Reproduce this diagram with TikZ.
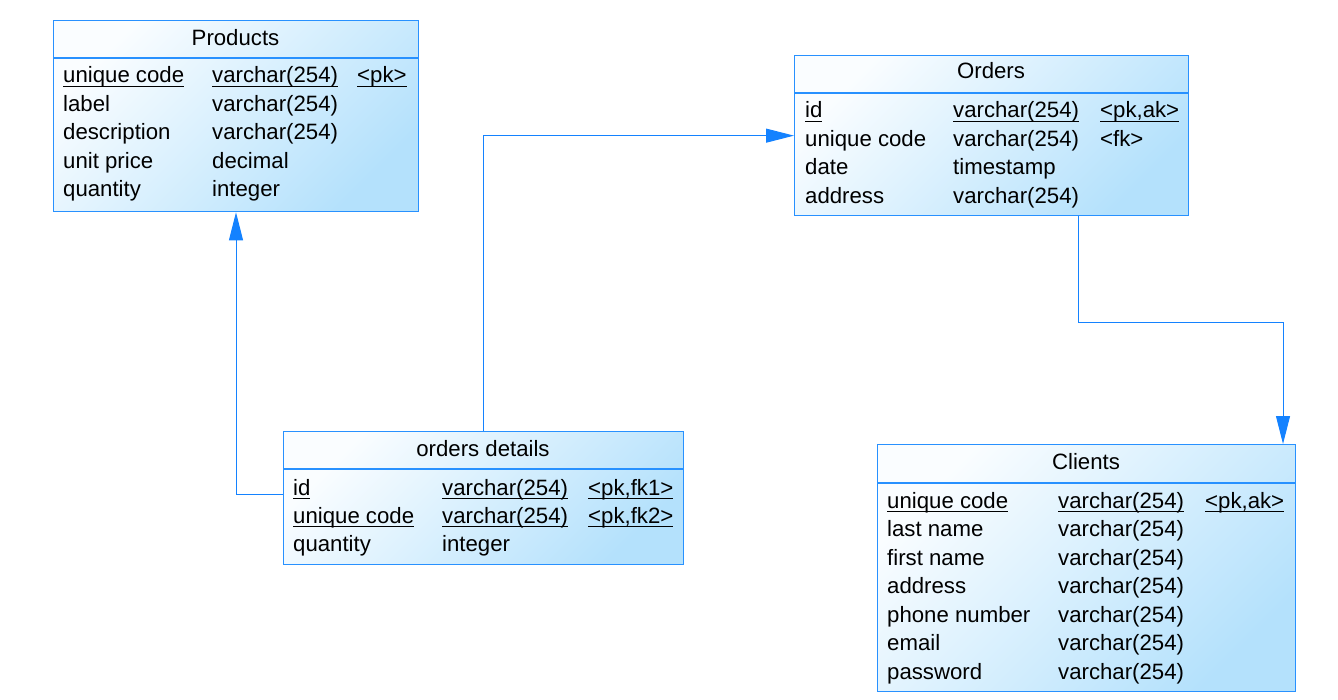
\documentclass[tikz,border=0pt]{standalone}
\usepackage{fontspec}
\setmainfont{Liberation Sans}
\usetikzlibrary{arrows.meta}
\definecolor{bcol}{RGB}{40,145,255}
\definecolor{ccol}{RGB}{20,130,255}
\definecolor{gtop}{RGB}{250,253,255}
\definecolor{gbot}{RGB}{180,225,252}
\newcommand\uln[1]{\setbox0\hbox{#1}\rlap{\rule[-4pt]{\wd0}{1.3pt}}\box0}
\tikzset{
  tbl/.style={draw=bcol, line width=1.3pt, top color=gtop, bottom color=gbot, shading angle=45, inner sep=0pt, anchor=north west},
  txt/.style={inner sep=0pt, anchor=base west, font=\fontsize{22.2}{26}\selectfont},
  ttl/.style={inner sep=0pt, anchor=base, font=\fontsize{22.2}{26}\selectfont},
  sep/.style={draw=bcol, line width=1.3pt},
  conn/.style={draw=ccol, line width=1pt, -{Triangle[length=28pt,width=14pt]}}
}
\newcommand\fld[4]{\node[txt] (#1) at (#2,#3) {#4};}
\begin{document}
\begin{tikzpicture}[x=1pt,y=-1pt]
\useasboundingbox (0,0) rectangle (1338,700);
% tables
\node[tbl, minimum width=365pt, minimum height=191pt] (prod) at (53,20) {};
\node[tbl, minimum width=394pt, minimum height=160pt] (ord) at (794,55) {};
\node[tbl, minimum width=400pt, minimum height=133pt] (od) at (283,431) {};
\node[tbl, minimum width=418pt, minimum height=247pt] (cli) at (877,444) {};
% header separators
\draw[sep] (prod.west |- 0,58) -- (prod.east |- 0,58);
\draw[sep] (ord.west |- 0,93) -- (ord.east |- 0,93);
\draw[sep] (od.west |- 0,469) -- (od.east |- 0,469);
\draw[sep] (cli.west |- 0,483) -- (cli.east |- 0,483);
% titles
\node[ttl] (prodT) at (235.5,46) {Products};
\node[ttl] (ordT) at (991,79) {Orders};
\node[ttl] (odT) at (483,456) {orders details};
\node[ttl] (cliT) at (1086,469) {Clients};
% Products rows
\fld{p1a}{63}{83}{\uln{unique code}}
\fld{p1b}{212}{83}{\uln{varchar(254)}}
\fld{p1c}{357}{83}{\uln{<pk>}}
\fld{p2a}{63}{111.5}{label}
\fld{p2b}{212}{111.5}{varchar(254)}
\fld{p3a}{63}{140}{description}
\fld{p3b}{212}{140}{varchar(254)}
\fld{p4a}{63}{168.5}{unit price}
\fld{p4b}{212}{168.5}{decimal}
\fld{p5a}{63}{197}{quantity}
\fld{p5b}{212}{197}{integer}
% Orders rows
\fld{o1a}{805}{118}{\uln{id}}
\fld{o1b}{953}{118}{\uln{varchar(254)}}
\fld{o1c}{1100}{118}{\uln{<pk,ak>}}
\fld{o2a}{805}{146.5}{unique code}
\fld{o2b}{953}{146.5}{varchar(254)}
\fld{o2c}{1100}{146.5}{<fk>}
\fld{o3a}{805}{175}{date}
\fld{o3b}{953}{175}{timestamp}
\fld{o4a}{805}{203.5}{address}
\fld{o4b}{953}{203.5}{varchar(254)}
% orders details rows
\fld{d1a}{293}{495}{\uln{id}}
\fld{d1b}{442}{495}{\uln{varchar(254)}}
\fld{d1c}{588}{495}{\uln{<pk,fk1>}}
\fld{d2a}{293}{523}{\uln{unique code}}
\fld{d2b}{442}{523}{\uln{varchar(254)}}
\fld{d2c}{588}{523}{\uln{<pk,fk2>}}
\fld{d3a}{293}{551}{quantity}
\fld{d3b}{442}{551}{integer}
% Clients rows
\fld{c1a}{887}{508}{\uln{unique code}}
\fld{c1b}{1058}{508}{\uln{varchar(254)}}
\fld{c1c}{1205}{508}{\uln{<pk,ak>}}
\fld{c2a}{887}{536.5}{last name}
\fld{c2b}{1058}{536.5}{varchar(254)}
\fld{c3a}{887}{565}{first name}
\fld{c3b}{1058}{565}{varchar(254)}
\fld{c4a}{887}{593.5}{address}
\fld{c4b}{1058}{593.5}{varchar(254)}
\fld{c5a}{887}{622}{phone number}
\fld{c5b}{1058}{622}{varchar(254)}
\fld{c6a}{887}{650.5}{email}
\fld{c6b}{1058}{650.5}{varchar(254)}
\fld{c7a}{887}{679}{password}
\fld{c7b}{1058}{679}{varchar(254)}
% connectors
\coordinate (k1) at (236,494);
\draw[conn] (od.west |- k1) -- (k1) -- (prod.south -| k1);
\draw[conn] (od.north) |- (ord.west);
\coordinate (k3) at (1078,323);
\coordinate (k4) at (1283,323);
\draw[conn] (ord.south -| k3) -- (k3) -- (k4) -- (cli.north -| k4);
\end{tikzpicture}
\end{document}
